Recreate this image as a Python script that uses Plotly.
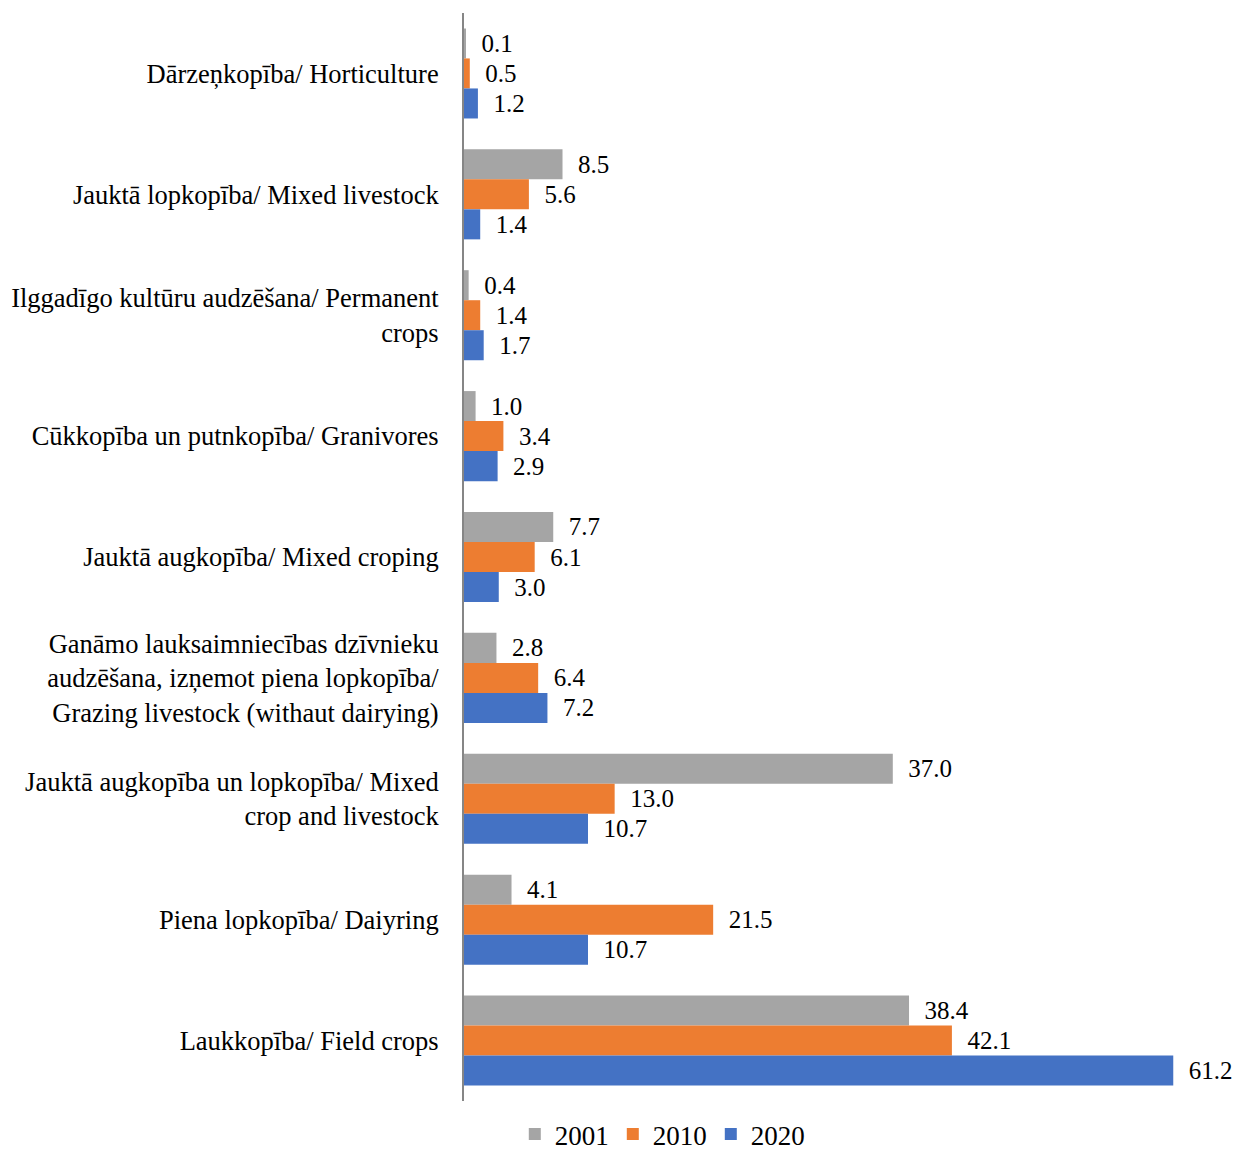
import plotly.graph_objects as go

categories = [
    "Dārzeņkopība/ Horticulture",
    "Jauktā lopkopība/ Mixed livestock",
    "Ilggadīgo kultūru audzēšana/ Permanent<br>crops",
    "Cūkkopība un putnkopība/ Granivores",
    "Jauktā augkopība/ Mixed croping",
    "Ganāmo lauksaimniecības dzīvnieku<br>audzēšana, izņemot piena lopkopība/<br>Grazing livestock (withaut dairying)",
    "Jauktā augkopība un lopkopība/ Mixed<br>crop and livestock",
    "Piena lopkopība/ Daiyring",
    "Laukkopība/ Field crops",
]
years = ["2001", "2010", "2020"]
v2001 = [0.1, 8.5, 0.4, 1.0, 7.7, 2.8, 37.0, 4.1, 38.4]
v2010 = [0.5, 5.6, 1.4, 3.4, 6.1, 6.4, 13.0, 21.5, 42.1]
v2020 = [1.2, 1.4, 1.7, 2.9, 3.0, 7.2, 10.7, 10.7, 61.2]
colors = ["#A5A5A5", "#ED7D31", "#4472C4"]

FONT = "Liberation Serif, Times New Roman, serif"

fig = go.Figure()
for name, vals, col in zip(years, [v2001, v2010, v2020], colors):
    fig.add_trace(go.Bar(
        y=categories, x=vals, name=name, orientation="h",
        marker=dict(color=col, line=dict(width=0)),
        text=vals, texttemplate="  %{x:.1f}", textposition="outside",
        textfont=dict(family=FONT, size=25, color="black"),
        cliponaxis=False,
    ))

fig.update_layout(
    width=1237, height=1159,
    paper_bgcolor="white", plot_bgcolor="white",
    margin=dict(l=464, r=0, t=13, b=58, autoexpand=False),
    barmode="group", bargap=0.255, bargroupgap=0,
    font=dict(family=FONT, size=26, color="black"),
    showlegend=True,
    legend=dict(orientation="h", xref="container", yref="container",
                x=0.535, xanchor="center", y=0.0, yanchor="bottom",
                font=dict(family=FONT, size=27, color="black"),
                itemwidth=30, entrywidth=53, traceorder="normal"),
)
fig.update_xaxes(range=[0, 66.7], visible=False, showgrid=False, zeroline=False,
                 automargin=False)
fig.update_yaxes(autorange="reversed", showgrid=False, zeroline=False,
                 showline=True, linecolor="#868686", linewidth=2,
                 ticks="", ticklabelstandoff=18, automargin=False,
                 tickfont=dict(family=FONT, size=26.5, color="black"))

fig.write_html("out.html", config={"displayModeBar": False},
               post_script="document.body.style.margin='0';document.body.style.overflow='hidden';")
